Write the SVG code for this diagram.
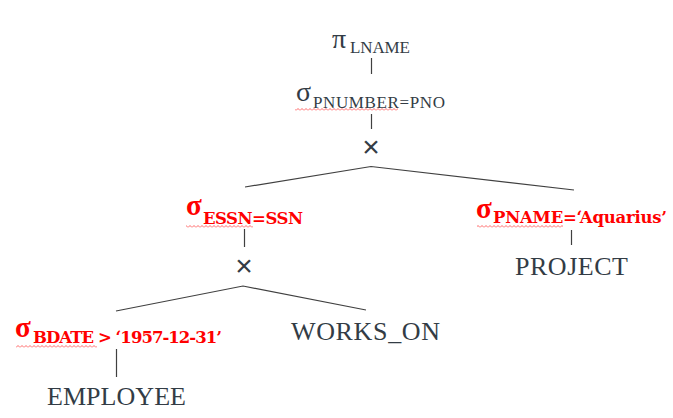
<svg xmlns="http://www.w3.org/2000/svg" width="673" height="418" viewBox="0 0 673 418">
<style>
.bk{font-family:"Liberation Serif","DejaVu Serif",serif;fill:#333c45}
.op{font-size:28px}
.sub{font-size:17px}
.nm{font-size:26px}
.rd{font-family:"DejaVu Serif","Liberation Serif",serif;fill:#ff0000;font-weight:bold}
.rop{font-family:"Liberation Serif",serif;font-size:29px}
.rsub{font-size:16.5px}
.x{font-family:"Liberation Sans",sans-serif;font-size:30px;fill:#333c45;text-anchor:middle}
.ln{stroke:#404040;stroke-width:1.2;fill:none}
.sq{fill:url(#wave)}
</style>
<defs>
<pattern id="wave" patternUnits="userSpaceOnUse" width="4" height="3">
<path d="M0 2.5 L2 0.5 L4 2.5" stroke="#ff4040" stroke-width="0.8" fill="none"/>
</pattern>
</defs>
<g id="connectors">
<line class="ln" x1="371.5" y1="58" x2="371.5" y2="74"/>
<line class="ln" x1="371.5" y1="114" x2="371.5" y2="129"/>
<polyline class="ln" points="245,187 371,166.5 574,190"/>
<line class="ln" x1="244.5" y1="229" x2="244.5" y2="247"/>
<polyline class="ln" points="116,311 243,286 366,310"/>
<line class="ln" x1="571.5" y1="230" x2="571.5" y2="245"/>
<line class="ln" x1="116.5" y1="349" x2="116.5" y2="377"/>
</g>
<g id="n-project-lname">
<text class="bk"><tspan class="op" x="332" y="48">π</tspan><tspan class="sub" x="350" y="52.5" textLength="60">LNAME</tspan></text>
</g>
<g id="n-select-pnumber">
<text class="bk"><tspan class="op" x="296" y="101">σ</tspan><tspan class="sub" x="313" y="108" textLength="132">PNUMBER=PNO</tspan></text>
<rect class="sq" x="295" y="108" width="103" height="3"/>
</g>
<g id="n-cross-1">
<text class="x" x="371" y="157">×</text>
</g>
<g id="n-select-essn">
<text class="rd"><tspan class="rop" x="186" y="215">σ</tspan><tspan class="rsub" x="203" y="224" textLength="100">ESSN=SSN</tspan></text>
<rect class="sq" x="186" y="225" width="67" height="3"/>
</g>
<g id="n-select-pname">
<text class="rd"><tspan class="rop" x="476" y="218">σ</tspan><tspan class="rsub" x="493" y="223" textLength="174">PNAME=‘Aquarius’</tspan></text>
<rect class="sq" x="477" y="225" width="86" height="3"/>
</g>
<g id="n-cross-2">
<text class="x" x="244" y="276">×</text>
</g>
<g id="n-project">
<text class="bk nm" x="515" y="275" textLength="113">PROJECT</text>
</g>
<g id="n-select-bdate">
<text class="rd"><tspan class="rop" x="15" y="337">σ</tspan><tspan class="rsub" x="33" y="343" textLength="189">BDATE &gt; ‘1957-12-31’</tspan></text>
<rect class="sq" x="16" y="345" width="81" height="3"/>
</g>
<g id="n-works-on">
<text class="bk nm" x="291" y="340" textLength="149">WORKS_ON</text>
</g>
<g id="n-employee">
<text class="bk nm" x="47" y="405" textLength="139">EMPLOYEE</text>
</g>
</svg>
